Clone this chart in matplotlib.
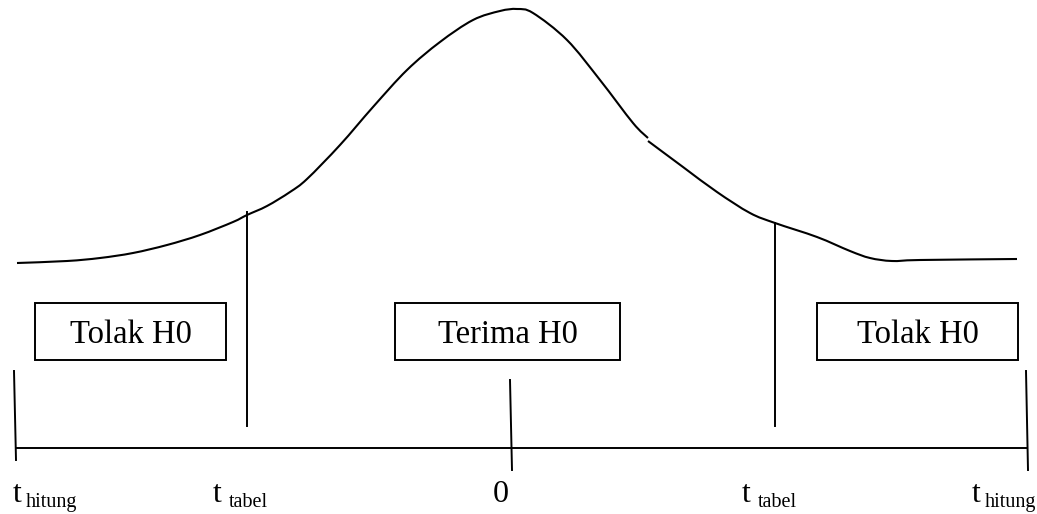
import numpy as np
import matplotlib.pyplot as plt
from matplotlib.patches import Rectangle, PathPatch
from matplotlib.path import Path

plt.rcParams['font.family'] = ['Liberation Serif', 'DejaVu Serif']

# kurva (koordinat gambar, piksel), dua potong karena ada patahan kecil
kurva1_x = [17, 67, 100, 133, 167, 200, 233, 247, 267, 290, 307, 340, 373, 407,
            440, 473, 500, 517, 533, 567, 600, 633, 648]
kurva1_y = [263, 261, 258, 253, 245, 235, 222, 215, 206, 192, 179, 145, 107, 70,
            42, 20, 11, 9, 13, 40, 80, 123, 138]
kurva2_x = [648, 683, 717, 750, 775, 817, 850, 870, 892, 920, 1017]
kurva2_y = [141, 167, 192, 213, 223, 237, 251, 258, 261, 260, 259]

# garis tegak
garis_x0 = [14, 247, 510, 775, 1026]
garis_x1 = [16, 247, 512, 775, 1028]
garis_y0 = [371, 212, 380, 223, 371]
garis_y1 = [460, 426, 470, 426, 470]

# kotak keputusan
kotak_teks = ['Tolak H0', 'Terima H0', 'Tolak H0']
kotak_x0 = [35, 395, 817]
kotak_x1 = [226, 620, 1018]
kotak_y0, kotak_y1 = 303, 360

# label sumbu: huruf utama dan subskrip
label_teks = ['t', 't', '0', 't', 't']
label_x = [13, 213, 493, 742, 972]
sub_teks = ['hitung', 'tabel', 'tabel', 'hitung']
sub_x = [26, 229, 758, 985]

fig = plt.figure(figsize=(10.37, 5.14), dpi=100)
ax = fig.add_axes([0, 0, 1, 1])
ax.set_xlim(0, 1037)
ax.set_ylim(514, 0)
ax.axis('off')


def kurva_halus(xs, ys):
    p = np.column_stack([xs, ys]).astype(float)
    verts = [p[0]]
    codes = [Path.MOVETO]
    n = len(p)
    for i in range(n - 1):
        a = p[i - 1] if i > 0 else p[i]
        d = p[i + 2] if i + 2 < n else p[i + 1]
        c1 = p[i] + (p[i + 1] - a) / 6
        c2 = p[i + 1] - (d - p[i]) / 6
        verts += [c1, c2, p[i + 1]]
        codes += [Path.CURVE4] * 3
    return Path(verts, codes)


for xs, ys in [(kurva1_x, kurva1_y), (kurva2_x, kurva2_y)]:
    ax.add_patch(PathPatch(kurva_halus(xs, ys), fill=False, ec='black', lw=1.5))

ax.plot([16, 1027], [448, 448], color='black', lw=1.4)
for a, b, c, d in zip(garis_x0, garis_x1, garis_y0, garis_y1):
    ax.plot([a, b], [c, d], color='black', lw=1.4)

for t, a, b in zip(kotak_teks, kotak_x0, kotak_x1):
    ax.add_patch(Rectangle((a, kotak_y0), b - a, kotak_y1 - kotak_y0,
                           fill=False, ec='black', lw=1.4))
    ax.text((a + b) / 2, 343, t, ha='center', va='baseline', fontsize=23.5)

for t, x in zip(label_teks, label_x):
    ax.text(x, 502, t, ha='left', va='baseline', fontsize=23)
for s, x in zip(sub_teks, sub_x):
    ax.text(x, 507, s, ha='left', va='baseline', fontsize=14.5)

fig.savefig('out.png', dpi=100)
